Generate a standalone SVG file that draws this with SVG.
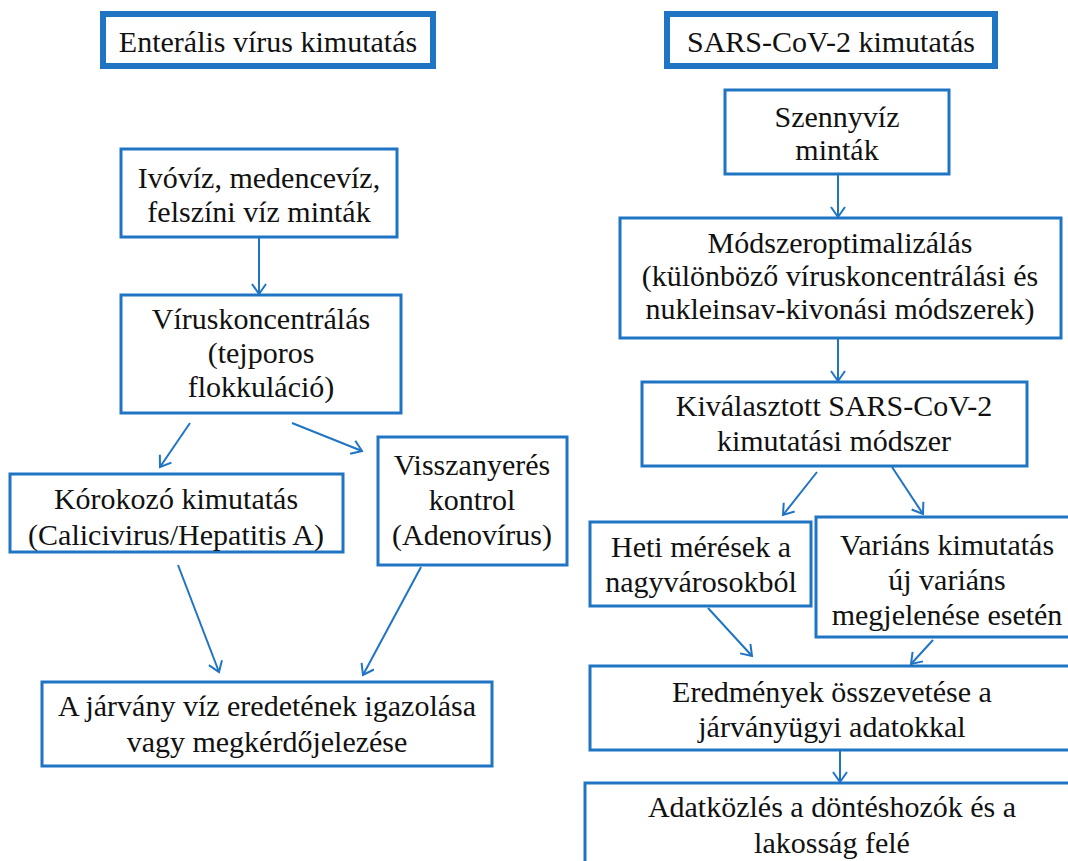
<svg xmlns="http://www.w3.org/2000/svg" width="1068" height="861" viewBox="0 0 1068 861">
<style>
.box{fill:#fff;stroke:#1f74c4;stroke-width:3}
.hdr{fill:#fff;stroke:#1f74c4;stroke-width:6}
text{font-family:"Liberation Serif","Times New Roman",serif;font-size:30px;fill:#111;text-anchor:middle}
.c{stroke:#1f74c4;stroke-width:2;fill:none;marker-end:url(#ah)}
</style>
<defs>
<marker id="ah" markerUnits="userSpaceOnUse" markerWidth="16" markerHeight="16" viewBox="0 0 16 16" refX="13" refY="8" orient="auto">
<path d="M3,1 L13,8 L3,15" fill="none" stroke="#1f74c4" stroke-width="2"/>
</marker>
</defs>
<rect width="1068" height="861" fill="#fff"/>
<g id="h1"><rect class="hdr" x="103" y="14" width="330" height="52"/><text x="268" y="52">Enterális vírus kimutatás</text></g>
<g id="h2"><rect class="hdr" x="667" y="14" width="328" height="52"/><text x="831" y="52">SARS-CoV-2 kimutatás</text></g>

<g id="n1"><rect class="box" x="121" y="149" width="276" height="88"/><text x="259" y="188">Ivóvíz, medencevíz,</text><text x="259" y="222">felszíni víz minták</text></g>
<g id="n2"><rect class="box" x="121" y="295" width="280" height="118"/><text x="261" y="329">Víruskoncentrálás</text><text x="261" y="363">(tejporos</text><text x="261" y="397">flokkuláció)</text></g>
<g id="n3"><rect class="box" x="10" y="474" width="333" height="78"/><text x="176" y="509">Kórokozó kimutatás</text><text x="176" y="545">(Calicivirus/Hepatitis A)</text></g>
<g id="n4"><rect class="box" x="378" y="437" width="189" height="128"/><text x="472" y="475">Visszanyerés</text><text x="472" y="510">kontrol</text><text x="472" y="545">(Adenovírus)</text></g>
<g id="n5"><rect class="box" x="42" y="682" width="450" height="84"/><text x="267" y="716">A járvány víz eredetének igazolása</text><text x="267" y="752">vagy megkérdőjelezése</text></g>

<g id="r1"><rect class="box" x="725" y="90" width="224" height="84"/><text x="837" y="127">Szennyvíz</text><text x="837" y="160">minták</text></g>
<g id="r2"><rect class="box" x="620" y="218" width="441" height="120"/><text x="840" y="253">Módszeroptimalizálás</text><text x="840" y="286">(különböző víruskoncentrálási és</text><text x="840" y="319">nukleinsav-kivonási módszerek)</text></g>
<g id="r3"><rect class="box" x="642" y="382" width="385" height="84"/><text x="834" y="416">Kiválasztott SARS-CoV-2</text><text x="834" y="451">kimutatási módszer</text></g>
<g id="r4"><rect class="box" x="590" y="522" width="221" height="84"/><text x="701" y="557">Heti mérések a</text><text x="701" y="592">nagyvárosokból</text></g>
<g id="r5"><rect class="box" x="816" y="517" width="262" height="120"/><text x="947" y="555">Variáns kimutatás</text><text x="947" y="590">új variáns</text><text x="947" y="625">megjelenése esetén</text></g>
<g id="r6"><rect class="box" x="590" y="666" width="486" height="84"/><text x="832" y="702">Eredmények összevetése a</text><text x="832" y="737">járványügyi adatokkal</text></g>
<g id="r7"><rect class="box" x="585" y="783" width="494" height="90"/><text x="832" y="817">Adatközlés a döntéshozók és a</text><text x="832" y="853">lakosság felé</text></g>

<g id="connectors">
<line class="c" x1="259" y1="237" x2="259" y2="294"/>
<line class="c" x1="190" y1="423" x2="160" y2="467"/>
<line class="c" x1="292" y1="423" x2="362" y2="451"/>
<line class="c" x1="178" y1="565" x2="219" y2="672"/>
<line class="c" x1="421" y1="567" x2="363" y2="675"/>
<line class="c" x1="838" y1="174" x2="838" y2="217"/>
<line class="c" x1="838" y1="338" x2="838" y2="381"/>
<line class="c" x1="817" y1="472" x2="783" y2="515"/>
<line class="c" x1="892" y1="467" x2="923" y2="514"/>
<line class="c" x1="708" y1="608" x2="752" y2="656"/>
<line class="c" x1="933" y1="640" x2="911" y2="664"/>
<line class="c" x1="840" y1="750" x2="840" y2="782"/>
</g>
</svg>
